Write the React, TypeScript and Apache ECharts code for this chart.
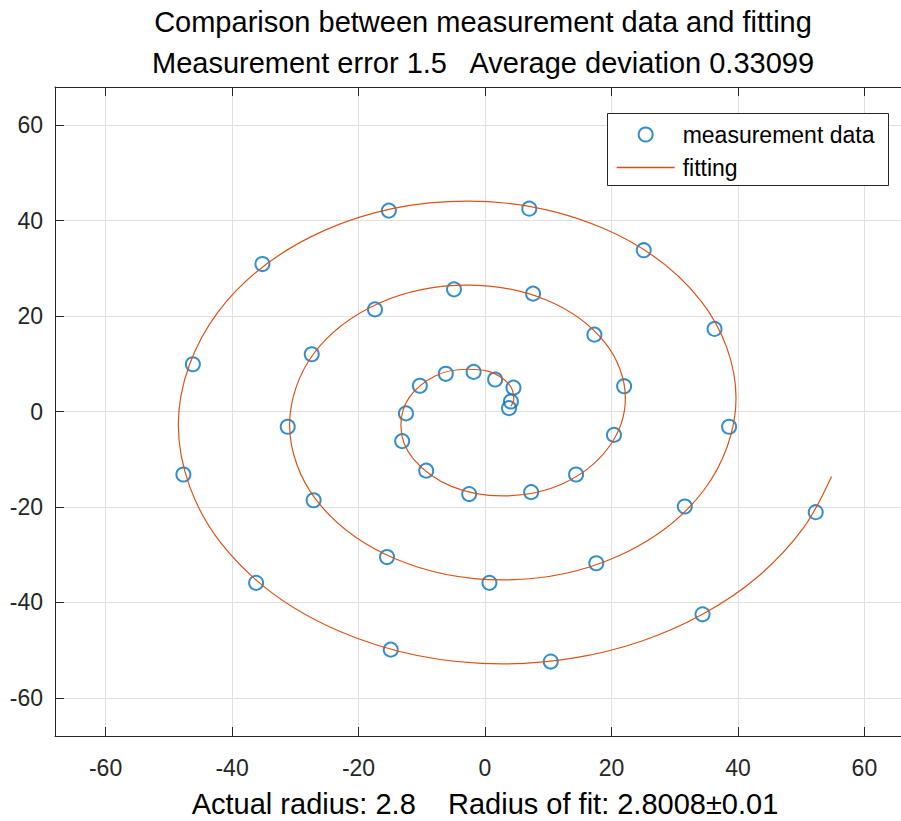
import React, { useEffect, useRef } from 'react';
import * as echarts from 'echarts';

const titleLine1 = 'Comparison between measurement data and fitting';
const titleLine2 = 'Measurement error 1.5   Average deviation 0.33099';
const xAxisLabel = 'Actual radius: 2.8    Radius of fit: 2.8008±0.01';
const seriesNames = ['measurement data', 'fitting'];
const xTicks = [-60, -40, -20, 0, 20, 40, 60];
const yTicks = [-60, -40, -20, 0, 20, 40, 60];
const axisMin = -68;
const axisMax = 68;

const measX = [3.8, 4.1, 4.5, 1.6, -1.8, -6.2, -10.3, -12.5, -13.1, -9.3, -2.5, 7.3, 14.4, 20.4, 22.0, 17.3, 7.6, -4.9, -17.4, -27.4, -31.2, -27.1, -15.5, 0.7, 17.6, 31.6, 38.6, 36.3, 25.1, 7.0, -15.2, -35.2, -46.2, -47.7, -36.2, -14.9, 10.4, 34.4, 52.3];
const measY = [0.7, 2.1, 5.0, 6.7, 8.3, 7.9, 5.4, -0.4, -6.2, -12.4, -17.3, -16.9, -13.2, -4.9, 5.3, 16.1, 24.7, 25.6, 21.4, 12.0, -3.2, -18.6, -30.5, -35.9, -31.8, -19.9, -3.2, 17.3, 33.8, 42.5, 42.1, 30.9, 9.9, -13.2, -35.9, -49.9, -52.4, -42.5, -21.1];

const fitX = [4.1, 4.55, 3.8, 0.6, -2.8, -7.8, -12.0, -13.3, -11.3, -5.3, 2.8, 12.2, 19.5, 22.2, 19.0, 9.8, -2.8, -16.6, -27.1, -30.9, -26.6, -14.3, 2.8, 20.9, 34.6, 39.7, 34.2, 18.7, -2.8, -25.3, -42.2, -48.5, -41.8, -23.1, 2.8, 13.9, 24.6, 34.4, 43.0, 50.3, 54.8];
const fitY = [1.1, 2.6, 5.7, 8.4, 8.85, 7.5, 2.9, -3.0, -10.0, -15.7, -17.7, -15.2, -7.6, 2.8, 14.4, 23.3, 26.5, 22.8, 12.1, -2.8, -18.7, -30.8, -35.3, -30.4, -16.5, 2.8, 23.1, 38.4, 44.1, 38.0, 20.9, -2.8, -27.5, -46.0, -52.9, -51.7, -48.2, -42.5, -34.8, -24.5, -13.6];

const FONT = '"Liberation Sans", Arial, Helvetica, sans-serif';
const AXIS_COLOR = '#262626';
const MARKER_COLOR = '#0072BD';
const FIT_COLOR = '#D95319';

export default function App() {
  const ref = useRef<HTMLDivElement>(null);

  useEffect(() => {
    if (!ref.current) return;
    const chart = echarts.init(ref.current, undefined, { renderer: 'svg' });

    const boxAxis = (pos: string, ticks: number[], showLabel: boolean, extra: any = {}) => ({
      type: 'value',
      position: pos,
      min: axisMin,
      max: axisMax,
      axisLine: { show: true, onZero: false, lineStyle: { color: AXIS_COLOR, width: 1 } },
      axisTick: { show: true, inside: true, length: 9, customValues: ticks, lineStyle: { color: AXIS_COLOR, width: 1 } },
      axisLabel: { show: showLabel, customValues: ticks, fontSize: 23, color: AXIS_COLOR, fontFamily: FONT },
      splitLine: { show: showLabel, lineStyle: { color: '#dfdfdf', width: 1 } },
      ...extra,
    });

    const titleStyle = { fontSize: 29, fontWeight: 'normal', color: '#000', fontFamily: FONT };

    const option: any = {
      animation: false,
      backgroundColor: '#ffffff',
      title: [
        { text: titleLine1, left: 483, top: 7, textAlign: 'center', padding: 0, textStyle: titleStyle },
        { text: titleLine2, left: 483, top: 48, textAlign: 'center', padding: 0, textStyle: titleStyle },
      ],
      grid: {
        left: 55,
        right: -14,
        top: 87,
        bottom: 85,
        containLabel: false,
        outerBoundsMode: 'none',
      },
      xAxis: [
        boxAxis('bottom', xTicks, true, {
          axisLabel: { show: true, customValues: xTicks, margin: 20, fontSize: 23, color: AXIS_COLOR, fontFamily: FONT },
          name: xAxisLabel,
          nameLocation: 'middle',
          nameGap: 53,
          nameTextStyle: { fontSize: 29, color: '#000', fontFamily: FONT },
        }),
        boxAxis('top', xTicks, false),
      ],
      yAxis: [
        boxAxis('left', yTicks, true, {
          axisLabel: { show: true, customValues: yTicks, margin: 12, fontSize: 23, color: AXIS_COLOR, fontFamily: FONT },
        }),
        boxAxis('right', yTicks, false),
      ],
      legend: {
        data: [
          { name: seriesNames[0] },
          { name: seriesNames[1], itemStyle: { color: 'rgba(0,0,0,0)', borderWidth: 0, opacity: 0 } },
        ],
        orient: 'vertical',
        left: 616,
        top: 123,
        padding: 0,
        itemWidth: 58,
        itemHeight: 14,
        itemGap: 10,
        selectedMode: false,
        z: 10,
        textStyle: { fontSize: 23, color: '#000', fontFamily: FONT, padding: [0, 0, 0, 3] },
        itemStyle: { borderWidth: 2 },
        lineStyle: { width: 1.3 },
      },
      graphic: [
        {
          type: 'rect',
          z: 5,
          shape: { x: 607.5, y: 113.5, width: 281, height: 72 },
          style: { fill: '#ffffff', stroke: AXIS_COLOR, lineWidth: 1 },
          silent: true,
        },
      ],
      series: [
        {
          type: 'scatter',
          name: seriesNames[0],
          xAxisIndex: 0,
          yAxisIndex: 0,
          data: measX.map((x, i) => [x, measY[i]]),
          symbol: 'circle',
          symbolSize: 14,
          itemStyle: { color: 'rgba(0,0,0,0)', borderColor: MARKER_COLOR, borderWidth: 2 },
          emphasis: { disabled: true },
        },
        {
          type: 'line',
          name: seriesNames[1],
          xAxisIndex: 0,
          yAxisIndex: 0,
          data: fitX.map((x, i) => [x, fitY[i]]),
          symbol: 'none',
          smooth: 0.35,
          lineStyle: { color: FIT_COLOR, width: 1.2 },
          itemStyle: { color: FIT_COLOR },
          emphasis: { disabled: true },
        },
      ],
    };

    chart.setOption(option);
    return () => {
      chart.dispose();
    };
  }, []);

  return (
    <div
      ref={ref}
      style={{ position: 'fixed', left: 0, top: 0, width: 901, height: 821, background: '#fff' }}
    />
  );
}
